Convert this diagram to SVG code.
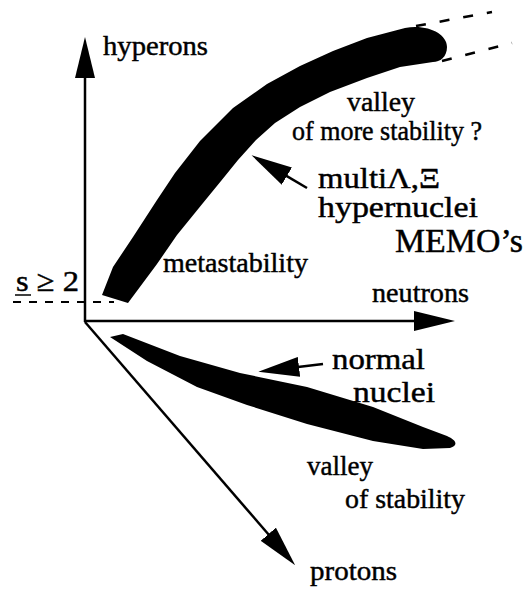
<svg xmlns="http://www.w3.org/2000/svg" width="524" height="590" viewBox="0 0 524 590">
<style>
text{font-family:"Liberation Serif","Times New Roman",serif;fill:#000;stroke:#000;stroke-width:0.45}
.ax{stroke:#000;stroke-width:2.5;fill:none}
.dash{stroke:#000;stroke-width:2;fill:none;stroke-dasharray:8 8}
.dash2{stroke:#000;stroke-width:2.5;fill:none;stroke-dasharray:10 14}
.band{fill:#000;stroke:none}
</style>
<defs>
<marker id="ah" markerUnits="userSpaceOnUse" markerWidth="42" markerHeight="20" refX="1" refY="10" orient="auto">
<path d="M0,0 L41,10 L0,20 Z" fill="#000"/>
</marker>
</defs>
<rect width="524" height="590" fill="#fff"/>
<g id="bands">
<path id="hyper-band" class="band" d="M102,295 L113,267 L133,237 L157,200 L175,173 L200,141 L233,108 L267,84 L300,66 L333,51 L367,38 L405,28 C428,24 447,34 447,47 C447,57 440,62 433,62 L400,67 L367,78 L330,92 L300,107 L275,123 L256,140 L238,160 L221,181 L203,203 L177,235 L157,264 L128,303 Z"/>
<path id="normal-band" class="band" d="M110,337 L123,334 L180,356 L240,373 L307,387 L373,407 L423,427 L447,436 C456,440 459,445 450,448 L423,449 L373,441 L307,424 L247,405 L197,387 L147,361 Z"/>
</g>
<g id="connectors">
<line class="ax" x1="85" y1="322" x2="85" y2="77" marker-end="url(#ah)"/>
<line class="ax" x1="84" y1="321" x2="415" y2="321" marker-end="url(#ah)"/>
<line class="ax" x1="85" y1="322" x2="269" y2="535" marker-end="url(#ah)"/>
<line class="ax" x1="307" y1="188" x2="286" y2="175.6" marker-end="url(#ah)"/>
<line class="ax" x1="323" y1="364" x2="298" y2="367" marker-end="url(#ah)"/>
<line class="dash" x1="13" y1="302" x2="114" y2="302"/>
<line class="dash2" x1="416" y1="26" x2="492" y2="12"/>
<line class="dash2" x1="442" y1="61" x2="512" y2="43"/>
<line x1="15" y1="295" x2="31" y2="295" stroke="#000" stroke-width="1.5"/>
</g>
<g id="labels">
<text x="103" y="55" font-size="27" textLength="105" lengthAdjust="spacingAndGlyphs">hyperons</text>
<text x="347" y="111" font-size="28" textLength="68" lengthAdjust="spacingAndGlyphs">valley</text>
<text x="292" y="140" font-size="28" textLength="190" lengthAdjust="spacingAndGlyphs">of more stability ?</text>
<text x="318" y="188" font-size="29" textLength="122" lengthAdjust="spacingAndGlyphs">multiΛ,Ξ</text>
<text x="318" y="217" font-size="29" textLength="160" lengthAdjust="spacingAndGlyphs">hypernuclei</text>
<text x="395" y="252" font-size="34" textLength="128" lengthAdjust="spacingAndGlyphs">MEMO’s</text>
<text x="163" y="272" font-size="28" textLength="145" lengthAdjust="spacingAndGlyphs">metastability</text>
<text x="16" y="291" font-size="30" textLength="63" lengthAdjust="spacingAndGlyphs">s ≥ 2</text>
<text x="372" y="302" font-size="28" textLength="97" lengthAdjust="spacingAndGlyphs">neutrons</text>
<text x="332" y="369" font-size="30" textLength="93" lengthAdjust="spacingAndGlyphs">normal</text>
<text x="353" y="402" font-size="30" textLength="82" lengthAdjust="spacingAndGlyphs">nuclei</text>
<text x="307" y="475" font-size="28" textLength="66" lengthAdjust="spacingAndGlyphs">valley</text>
<text x="345" y="508" font-size="28" textLength="120" lengthAdjust="spacingAndGlyphs">of stability</text>
<text x="310" y="580" font-size="28" textLength="87" lengthAdjust="spacingAndGlyphs">protons</text>
</g>
</svg>
